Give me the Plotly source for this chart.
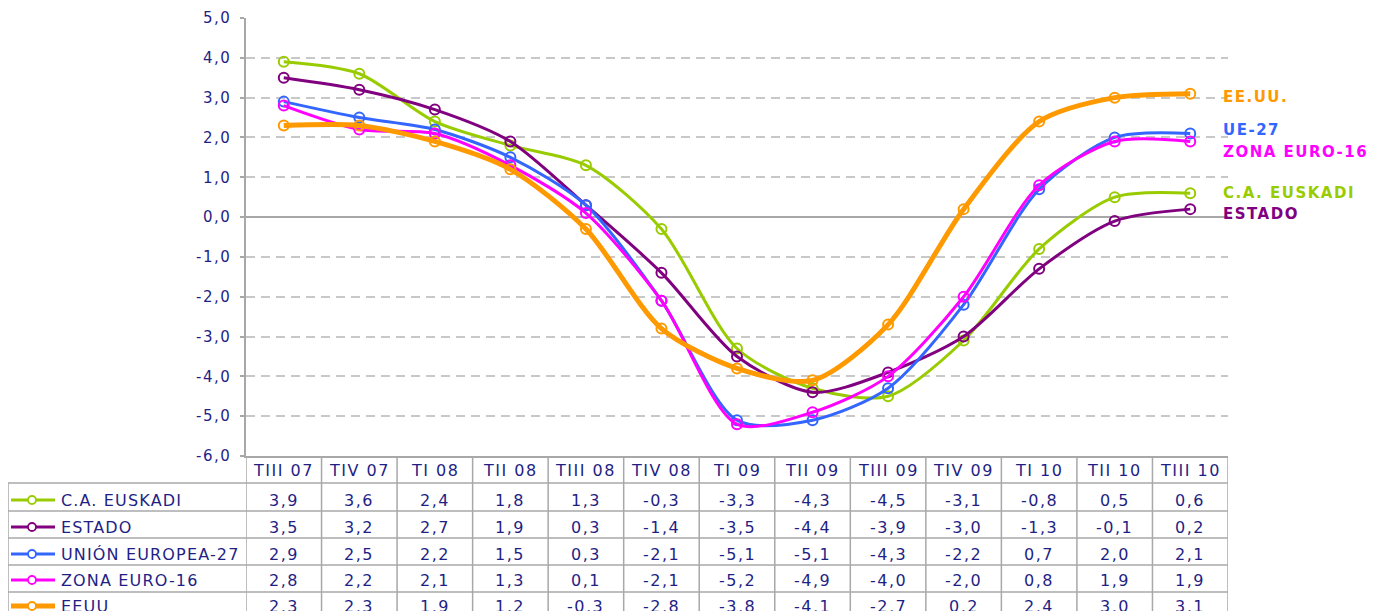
import plotly.graph_objects as go

categories = ["TIII 07", "TIV 07", "TI 08", "TII 08", "TIII 08", "TIV 08", "TI 09",
              "TII 09", "TIII 09", "TIV 09", "TI 10", "TII 10", "TIII 10"]
euskadi = [3.9, 3.6, 2.4, 1.8, 1.3, -0.3, -3.3, -4.3, -4.5, -3.1, -0.8, 0.5, 0.6]
estado = [3.5, 3.2, 2.7, 1.9, 0.3, -1.4, -3.5, -4.4, -3.9, -3.0, -1.3, -0.1, 0.2]
ue27 = [2.9, 2.5, 2.2, 1.5, 0.3, -2.1, -5.1, -5.1, -4.3, -2.2, 0.7, 2.0, 2.1]
zona16 = [2.8, 2.2, 2.1, 1.3, 0.1, -2.1, -5.2, -4.9, -4.0, -2.0, 0.8, 1.9, 1.9]
eeuu = [2.3, 2.3, 1.9, 1.2, -0.3, -2.8, -3.8, -4.1, -2.7, 0.2, 2.4, 3.0, 3.1]

table_names = ["C.A. EUSKADI", "ESTADO", "UNIÓN EUROPEA-27", "ZONA EURO-16", "EEUU"]
end_labels = ["C.A. EUSKADI", "ESTADO", "UE-27", "ZONA EURO-16", "EE.UU."]
y_ticks = [5, 4, 3, 2, 1, 0, -1, -2, -3, -4, -5, -6]

series = [euskadi, estado, ue27, zona16, eeuu]
colors = ["#99cc00", "#800080", "#3366ff", "#ff00ff", "#ff9900"]
widths = [3, 3, 3, 3, 5]

OFF = 8  # page body margin
W, H = 1382 - OFF, 611 - OFF
L, R, T, B = 246 - OFF, 1228 - OFF, 18 - OFF, 456 - OFF
TXT = "#1f1f85"
FONT = "DejaVu Sans"


def px(X):
    return (X - OFF - L) / (R - L)


def py(Y):
    return (B - (Y - OFF)) / (B - T)


def sp(s, ls=1.5):
    return f'<span style="letter-spacing:{ls}px">{s}</span>'


def fmt(v):
    return f"{v:.1f}".replace(".", ",")


fig = go.Figure()
for name, vals, c, w in zip(table_names, series, colors, widths):
    fig.add_trace(go.Scatter(
        x=list(range(len(categories))), y=vals, mode="lines+markers", name=name,
        line=dict(color=c, width=w, shape="spline", smoothing=0.8),
        marker=dict(symbol="circle-open", size=10, color=c, line=dict(width=2, color=c)),
        showlegend=False, hoverinfo="skip"))

shapes = []
ann = []
grid = "#a8a8a8"

# table vertical lines
for k in range(1, len(categories) + 1):
    shapes.append(dict(type="line", xref="x", yref="paper", x0=k - 0.5, x1=k - 0.5,
                       y0=py(456), y1=py(630), line=dict(color=grid, width=1.5)))
shapes.append(dict(type="line", xref="x", yref="paper", x0=-0.5, x1=-0.5,
                   y0=py(456), y1=py(630), line=dict(color=grid, width=1.5)))
# horizontal lines
row_lines = [483, 511, 538, 565, 592]
for Y in row_lines:
    shapes.append(dict(type="line", xref="paper", yref="paper", x0=px(8), x1=1,
                       y0=py(Y), y1=py(Y), line=dict(color=grid, width=1.5)))
shapes.append(dict(type="line", xref="paper", yref="paper", x0=px(8), x1=px(8),
                   y0=py(483), y1=py(630), line=dict(color=grid, width=1.5)))

# header
for i, cat in enumerate(categories):
    ann.append(dict(x=i, y=py(470), xref="x", yref="paper", text=sp(cat), showarrow=False,
                    font=dict(family=FONT, size=16, color=TXT), xanchor="center", yanchor="middle"))

row_y = [500, 527, 554, 580, 606]
for r, (name, vals, c, w) in enumerate(zip(table_names, series, colors, widths)):
    Y = row_y[r]
    ann.append(dict(x=px(59), y=py(Y), xref="paper", yref="paper", text=sp(name, 1.15), showarrow=False,
                    font=dict(family=FONT, size=16, color=TXT), xanchor="left", yanchor="middle"))
    for i, v in enumerate(vals):
        ann.append(dict(x=i, y=py(Y), xref="x", yref="paper", text=sp(fmt(v)), showarrow=False,
                        font=dict(family=FONT, size=16, color=TXT), xanchor="center", yanchor="middle"))
    shapes.append(dict(type="line", xref="paper", yref="paper", x0=px(11), x1=px(55),
                       y0=py(Y), y1=py(Y), line=dict(color=c, width=w)))
    shapes.append(dict(type="circle", xref="paper", yref="paper",
                       x0=px(28), x1=px(36), y0=py(Y + 4), y1=py(Y - 4),
                       fillcolor="white", line=dict(color=c, width=1.8)))

# end labels
end_y = [193, 214, 130, 152, 97]
for lab, Y, c in zip(end_labels, end_y, colors):
    ann.append(dict(x=px(1221), y=py(Y), xref="paper", yref="paper", text="<b>" + sp(lab) + "</b>",
                    showarrow=False, font=dict(family=FONT, size=15, color=c),
                    xanchor="left", yanchor="middle"))

fig.update_layout(
    width=W, height=H, margin=dict(l=L, r=W - R, t=T, b=H - B, pad=0),
    autosize=False,
    paper_bgcolor="white", plot_bgcolor="white",
    shapes=shapes, annotations=ann,
    xaxis=dict(range=[-0.5, len(categories) - 0.5], showticklabels=False, showgrid=False,
               zeroline=False, showline=True, linecolor=grid, linewidth=1.5, ticks="",
               automargin=False),
    yaxis=dict(range=[-6, 5], tickvals=y_ticks, ticktext=[sp(fmt(v)) for v in y_ticks],
               showgrid=True, gridcolor="#c8c8c8", griddash="9px,6px", gridwidth=1.5,
               zeroline=True, zerolinecolor=grid, zerolinewidth=1.5,
               showline=True, linecolor=grid, linewidth=1.5,
               ticks="outside", ticklen=4, tickcolor=grid, tickwidth=1.5,
               tickfont=dict(family=FONT, size=15, color=TXT), ticklabelstandoff=6,
               automargin=False),
)

fig.write_html("out.html")
